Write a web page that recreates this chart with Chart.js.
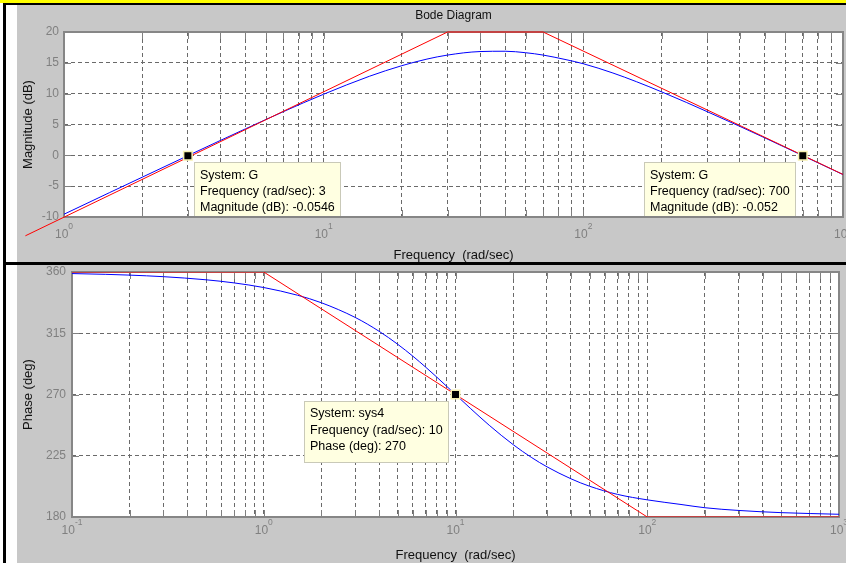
<!DOCTYPE html>
<html lang="en">
<head>
<meta charset="UTF-8" />
<title>Bode Diagram</title>
<script src="https://cdn.jsdelivr.net/npm/chart.js@4.4.0/dist/chart.umd.min.js"></script>
<style>
  html, body { margin: 0; padding: 0; background: #fff; }
  #frame { position: relative; width: 846px; height: 563px; overflow: hidden; background: #fff; }
  #frame > div, #frame > canvas { position: absolute; }
  #yellow { left: 0; top: 0; width: 846px; height: 3px; background: #ffff00; }
  #topline { left: 3px; top: 3px; width: 843px; height: 2px; background: #000; }
  #leftline { left: 3px; top: 3px; width: 3px; height: 560px; background: #000; }
  #midline { left: 3px; top: 262px; width: 843px; height: 3px; background: #000; }
  #panelTop { left: 17px; top: 5px; width: 829px; height: 257px; background: #c8c8c8; }
  #panelBot { left: 17px; top: 265px; width: 829px; height: 298px; background: #c8c8c8; }
  #magChart { left: 17px; top: 5px; }
  #phaseChart { left: 17px; top: 265px; }
</style>
</head>
<body>
<div id="frame">
  <div id="yellow"></div>
  <div id="panelTop"></div>
  <div id="panelBot"></div>
  <div id="topline"></div>
  <div id="leftline"></div>
  <div id="midline"></div>
  <canvas id="magChart" width="829" height="257"></canvas>
  <canvas id="phaseChart" width="829" height="298"></canvas>
</div>

<script>
// magnitude plot (system G)
const magFreq = [1, 1.5, 2, 3, 4, 5, 7, 10, 15, 20, 25, 30, 40, 50, 60, 70, 85, 100, 130, 160, 200, 250, 300, 400, 500, 600, 700, 850, 1000];
const magDb = [-9.55, -6.03, -3.55, -0.05, 2.41, 4.30, 7.09, 9.91, 12.82, 14.54, 15.61, 16.26, 16.83, 16.88, 16.64, 16.26, 15.55, 14.85, 13.35, 11.95, 10.3, 8.56, 7.08, 4.71, 2.83, 1.27, -0.05, -1.72, -3.12];
const magAsymFreq = [0.71, 30, 70, 1000];
const magAsymDb = [-13.05, 20, 20, -3.1];
const magTicks = [-10, -5, 0, 5, 10, 15, 20];
const magDecades = [1, 10, 100, 1000];
const magCursors = [{ x: 3, y: -0.0546 }, { x: 700, y: -0.052 }];
const magNotes = [
  ['System: G', 'Frequency (rad/sec): 3', 'Magnitude (dB): -0.0546'],
  ['System: G', 'Frequency (rad/sec): 700', 'Magnitude (dB): -0.052']
];

// phase plot (system sys4)
const phaseFreq = [0.1, 0.15, 0.2, 0.3, 0.5, 0.7, 1, 1.5, 2, 3, 4, 5, 6, 7, 8, 10, 12, 15, 20, 25, 30, 40, 50, 70, 100, 150, 200, 300, 500, 1000];
const phaseDeg = [358.85, 358.28, 357.71, 356.56, 354.28, 351.99, 348.58, 342.94, 337.38, 326.6, 316.4, 306.87, 298.08, 290.02, 282.68, 270, 259.62, 247.38, 233.13, 223.6, 216.87, 208.07, 202.62, 196.6, 192.6, 189.2, 186.8, 184.8, 183.2, 182.0];
const phaseAsymFreq = [0.1, 1, 100, 1000];
const phaseAsymDeg = [360, 360, 180, 180];
const phaseTicks = [180, 225, 270, 315, 360];
const phaseDecades = [0.1, 1, 10, 100, 1000];
const phaseCursors = [{ x: 10, y: 270 }];
const phaseNotes = [
  ['System: sys4', 'Frequency (rad/sec): 10', 'Phase (deg): 270']
];

const FONT = '"Liberation Sans", Arial, sans-serif';
const GRAY = '#808080';

function pairs(xs, ys) {
  return xs.map((v, i) => ({ x: v, y: ys[i] }));
}

// 1..9 per decade for the log grid
function logGrid(decades) {
  const out = [];
  decades.forEach((d, i) => {
    if (i === decades.length - 1) { out.push(d); return; }
    for (let k = 1; k <= 9; k++) out.push(d * k);
  });
  return out;
}

function bodePlugin(cfg) {
  return {
    id: 'bode',
    beforeDraw(chart) {
      const { ctx, chartArea: a } = chart;
      ctx.save();
      ctx.fillStyle = '#fff';
      ctx.fillRect(a.left, a.top, a.right - a.left, a.bottom - a.top);
      ctx.restore();
    },
    beforeDatasetsDraw(chart) {
      const { ctx, chartArea: a, scales: { x, y } } = chart;
      ctx.save();
      // inward tick marks
      ctx.strokeStyle = GRAY;
      ctx.lineWidth = 1;
      ctx.beginPath();
      cfg.yTicks.forEach(v => {
        const py = Math.round(y.getPixelForValue(v)) + 0.5;
        ctx.moveTo(a.left, py); ctx.lineTo(a.left + 7, py);
        ctx.moveTo(a.right, py); ctx.lineTo(a.right - 7, py);
      });
      x.ticks.forEach(t => {
        const px = Math.round(x.getPixelForValue(t.value)) + 0.5;
        ctx.moveTo(px, a.bottom); ctx.lineTo(px, a.bottom - 7);
        ctx.moveTo(px, a.top); ctx.lineTo(px, a.top + 7);
      });
      ctx.stroke();
      // axes box (curves go over it, like the reference)
      ctx.strokeStyle = '#868686';
      ctx.lineWidth = 2;
      ctx.strokeRect(a.left, a.top, a.right - a.left, a.bottom - a.top);
      ctx.restore();
    },
    afterDatasetsDraw(chart) {
      const { ctx, chartArea: a, scales: { x, y } } = chart;
      // data tips, clipped just above the bottom axis line
      ctx.save();
      ctx.beginPath();
      ctx.rect(a.left, a.top, a.right - a.left, a.bottom - a.top - 1);
      ctx.clip();
      ctx.font = '12.5px ' + FONT;
      cfg.notes.forEach((lines, i) => {
        const c = cfg.cursors[i];
        const px = x.getPixelForValue(c.x);
        const py = y.getPixelForValue(c.y);
        const w = Math.max(...lines.map(s => ctx.measureText(s).width)) + 12;
        const h = 62;
        const left = cfg.noteSide[i] === 'right' ? px + 6 : px - 7 - w;
        const top = py + 6;
        ctx.fillStyle = '#ffffe1';
        ctx.fillRect(Math.round(left), Math.round(top), Math.round(w), h);
        ctx.strokeStyle = '#c9c9b8';
        ctx.lineWidth = 1;
        ctx.strokeRect(Math.round(left) + 0.5, Math.round(top) + 0.5, Math.round(w) - 1, h - 1);
        ctx.fillStyle = '#000';
        ctx.textAlign = 'left';
        ctx.textBaseline = 'middle';
        lines.forEach((s, k) => ctx.fillText(s, Math.round(left) + 6, top + 13.5 + k * 16.3));
      });
      ctx.restore();
    },
    afterDraw(chart) {
      const { ctx, chartArea: a, scales: { x, y } } = chart;
      ctx.save();
      // y tick labels
      ctx.fillStyle = GRAY;
      ctx.font = '12px ' + FONT;
      ctx.textAlign = 'right';
      ctx.textBaseline = 'middle';
      cfg.yTicks.forEach(v => ctx.fillText(String(v), a.left - cfg.yLabelGap, y.getPixelForValue(v)));

      // x tick labels 10^n
      ctx.textAlign = 'left';
      cfg.decades.forEach(d => {
        const px = x.getPixelForValue(d);
        const exp = String(Math.round(Math.log10(d)));
        ctx.font = '12px ' + FONT;
        const w1 = ctx.measureText('10').width;
        ctx.font = '8.5px ' + FONT;
        const w2 = ctx.measureText(exp).width;
        const x0 = px - (w1 + w2) / 2;
        ctx.font = '12px ' + FONT;
        ctx.fillText('10', x0, a.bottom + cfg.baseOff);
        ctx.font = '8.5px ' + FONT;
        ctx.fillText(exp, x0 + w1, a.bottom + cfg.supOff);
      });

      // axis labels
      ctx.fillStyle = '#111';
      ctx.textAlign = 'center';
      ctx.font = '13px ' + FONT;
      ctx.fillText('Frequency  (rad/sec)', (a.left + a.right) / 2, a.bottom + 38.5);
      ctx.save();
      ctx.translate(cfg.yTitleX, (a.top + a.bottom) / 2);
      ctx.rotate(-Math.PI / 2);
      ctx.fillText(cfg.yTitle, 0, 0);
      ctx.restore();
      if (cfg.title) {
        ctx.font = '12px ' + FONT;
        ctx.fillText(cfg.title, (a.left + a.right) / 2, 11);
      }
      ctx.restore();
    }
  };
}

function makeChart(id, opt) {
  const grid = logGrid(opt.decades);
  return new Chart(document.getElementById(id), {
    type: 'line',
    data: {
      datasets: [
        {
          type: 'scatter',
          data: opt.cursors,
          pointStyle: 'rect',
          pointRadius: 6,
          pointBackgroundColor: '#000',
          pointBorderColor: '#f6f0b0',
          pointBorderWidth: 1.5,
          showLine: false,
          clip: false
        },
        {
          data: opt.asym,
          borderColor: '#ff0000',
          borderWidth: 1,
          pointRadius: 0,
          clip: opt.asymClip
        },
        {
          data: opt.curve,
          borderColor: '#0000ff',
          borderWidth: 1,
          pointRadius: 0,
          cubicInterpolationMode: 'monotone'
        }
      ]
    },
    options: {
      responsive: false,
      animation: false,
      devicePixelRatio: 1,
      layout: { padding: opt.padding, autoPadding: false },
      plugins: { legend: { display: false }, tooltip: { enabled: false } },
      events: [],
      scales: {
        x: {
          type: 'logarithmic',
          min: opt.decades[0],
          max: opt.decades[opt.decades.length - 1],
          afterBuildTicks: s => { s.ticks = grid.map(v => ({ value: v })); },
          ticks: { display: false },
          grid: { color: '#6a6a6a', lineWidth: 1, drawTicks: false },
          border: { display: false, dash: [4, 3] }
        },
        y: {
          type: 'linear',
          min: opt.yTicks[0],
          max: opt.yTicks[opt.yTicks.length - 1],
          ticks: { display: false, stepSize: opt.yTicks[1] - opt.yTicks[0] },
          grid: { color: '#6a6a6a', lineWidth: 1, drawTicks: false },
          border: { display: false, dash: [4, 3] }
        }
      }
    },
    plugins: [bodePlugin(opt)]
  });
}

makeChart('magChart', {
  decades: magDecades,
  yTicks: magTicks,
  curve: pairs(magFreq, magDb),
  asym: pairs(magAsymFreq, magAsymDb),
  asymClip: false,
  cursors: magCursors,
  notes: magNotes,
  noteSide: ['right', 'left'],
  padding: { left: 47, right: 3, top: 27, bottom: 45 },
  yLabelGap: 5,
  baseOff: 18,
  supOff: 9.5,
  yTitle: 'Magnitude (dB)',
  yTitleX: 11,
  title: 'Bode Diagram'
});

makeChart('phaseChart', {
  decades: phaseDecades,
  yTicks: phaseTicks,
  curve: pairs(phaseFreq, phaseDeg),
  asym: pairs(phaseAsymFreq, phaseAsymDeg),
  asymClip: undefined,
  cursors: phaseCursors,
  notes: phaseNotes,
  noteSide: ['left'],
  padding: { left: 55, right: 7, top: 7, bottom: 46 },
  yLabelGap: 6,
  baseOff: 14,
  supOff: 6,
  yTitle: 'Phase (deg)',
  yTitleX: 11.5,
  title: null
});
</script>
</body>
</html>
